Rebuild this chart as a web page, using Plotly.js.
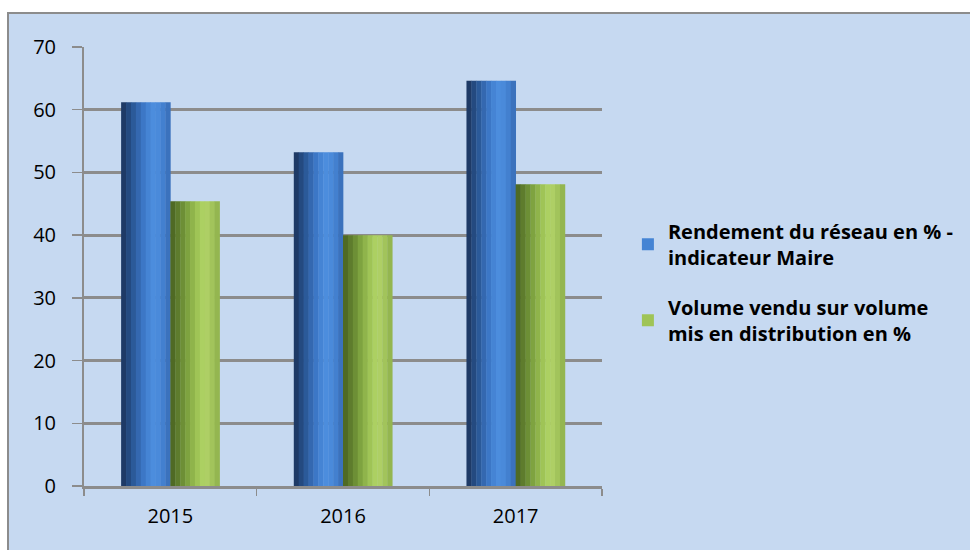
<!DOCTYPE html>
<html>
<head>
<meta charset="utf-8">
<script src="https://cdn.plot.ly/plotly-3.0.1.min.js"></script>
<style>
  html, body { margin: 0; padding: 0; background: #ffffff; width: 970px; height: 550px; overflow: hidden; }
  #frame { position: absolute; left: 7px; top: 12px; width: 980px; height: 560px;
           border-left: 2px solid #8c8c8c; border-top: 2px solid #8c8c8c; background: #c6d9f1; }
  #chart { position: absolute; left: 0; top: 0; width: 961px; height: 536px; }
</style>
</head>
<body>
<div id="frame"><div id="chart"></div></div>
<script>
// ---- data ----
const categories = ["2015", "2016", "2017"];
const seriesNames = [
  "Rendement du réseau en % -<br>indicateur Maire",
  "Volume vendu sur volume<br>mis en distribution en %"
];
const rendement = [61.2, 53.2, 64.6];
const volumeVendu = [45.4, 40.0, 48.1];
const yTicks = [0, 10, 20, 30, 40, 50, 60, 70];

// ---- cylinder-like shading via vertical slices ----
const blueShades = ["#1e3a66", "#244a80", "#2b5a99", "#3468b0", "#3c77c6", "#4584d4", "#4c8ddd", "#4a8ada", "#4380cf", "#3b72bd"];
const greenShades = ["#4f6a24", "#5e7c2d", "#6d8f36", "#7ea340", "#8fb44b", "#9fc456", "#acd062", "#aecf65", "#a2c45b", "#94b650"];

const barW = 0.285;
const traces = [];
function addSeries(values, shades, startOffset, name, legendIdx) {
  const n = shades.length;
  const sw = barW / n;
  shades.forEach((c, i) => {
    traces.push({
      type: "bar",
      x: categories,
      y: values,
      name: name,
      legendgroup: name,
      showlegend: i === legendIdx,
      width: sw + 0.002,
      offset: startOffset + i * sw,
      marker: { color: c, line: { width: 0 } },
      hoverinfo: "x+y"
    });
  });
}
addSeries(rendement, blueShades, -barW, seriesNames[0], 5);
addSeries(volumeVendu, greenShades, 0, seriesNames[1], 5);

const layout = {
  width: 961,
  height: 536,
  margin: { l: 75, r: 368, t: 33, b: 64 },
  paper_bgcolor: "#c6d9f1",
  plot_bgcolor: "#c6d9f1",
  barmode: "overlay",
  showlegend: true,
  font: { family: "Open Sans, sans-serif", color: "#000000" },
  xaxis: {
    type: "category",
    tickson: "boundaries",
    ticks: "outside",
    ticklen: 7,
    tickwidth: 1.5,
    tickcolor: "#8c8c8c",
    showline: true,
    linecolor: "#8c8c8c",
    linewidth: 3,
    showgrid: false,
    tickfont: { size: 20, family: "Open Sans, sans-serif", color: "#000" },
    ticklabelstandoff: 10,
    fixedrange: true
  },
  yaxis: {
    range: [0, 70],
    tickvals: yTicks,
    ticktext: yTicks.map(String),
    ticks: "outside",
    ticklen: 10,
    tickwidth: 1.5,
    tickcolor: "#8c8c8c",
    showline: true,
    linecolor: "#8c8c8c",
    linewidth: 2,
    showgrid: true,
    gridcolor: "#8c8c8c",
    gridwidth: 3,
    zeroline: false,
    tickfont: { size: 20, family: "Open Sans, sans-serif", color: "#000" },
    ticklabelstandoff: 12,
    fixedrange: true
  },
  legend: {
    x: 1.05,
    xanchor: "left",
    y: 0.625,
    yanchor: "top",
    bgcolor: "rgba(0,0,0,0)",
    font: { size: 20, family: "Open Sans, sans-serif", color: "#000", weight: "bold" },
    traceorder: "grouped",
    tracegroupgap: 21,
    itemclick: false,
    itemdoubleclick: false
  }
};

Plotly.newPlot("chart", traces, layout, { displayModeBar: false, staticPlot: true });
</script>
</body>
</html>
